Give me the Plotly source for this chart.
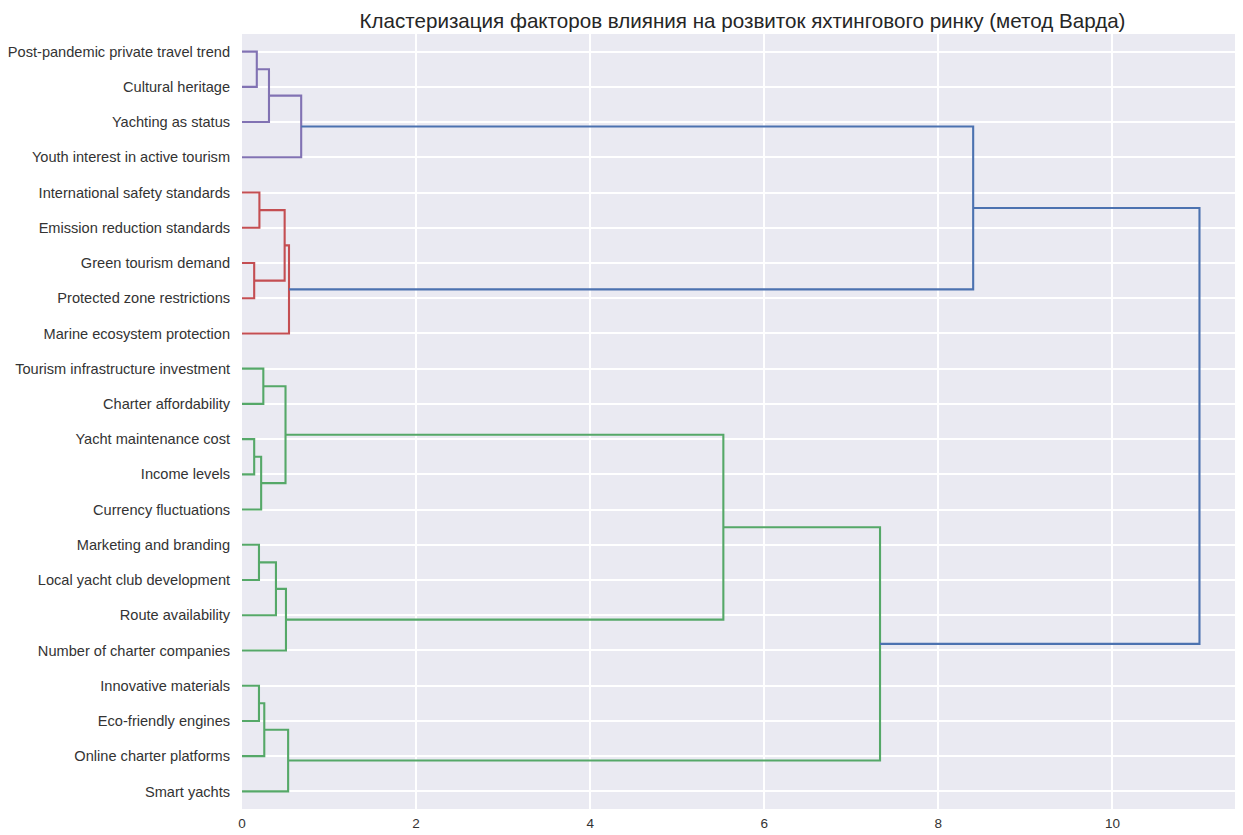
import plotly.graph_objects as go

# Leaf labels, top to bottom
labels = [
    "Post-pandemic private travel trend",
    "Cultural heritage",
    "Yachting as status",
    "Youth interest in active tourism",
    "International safety standards",
    "Emission reduction standards",
    "Green tourism demand",
    "Protected zone restrictions",
    "Marine ecosystem protection",
    "Tourism infrastructure investment",
    "Charter affordability",
    "Yacht maintenance cost",
    "Income levels",
    "Currency fluctuations",
    "Marketing and branding",
    "Local yacht club development",
    "Route availability",
    "Number of charter companies",
    "Innovative materials",
    "Eco-friendly engines",
    "Online charter platforms",
    "Smart yachts",
]

# Linkage: (left node, right node); new node ids start at len(labels)
merge_left = [0, 22, 23, 4, 6, 25, 27, 24, 9, 11, 31, 30, 14, 34, 35, 18, 37, 38, 33, 40, 29]
merge_right = [1, 2, 3, 5, 7, 26, 8, 28, 10, 12, 13, 32, 15, 16, 17, 19, 20, 21, 36, 39, 41]
merge_height = [0.17, 0.31, 0.68, 0.20, 0.14, 0.49, 0.54, 8.40, 0.245, 0.14, 0.22, 0.50,
                0.195, 0.39, 0.505, 0.195, 0.256, 0.53, 5.53, 7.33, 11.0]
merge_group = ["purple", "purple", "purple", "red", "red", "red", "red", "blue",
               "green", "green", "green", "green", "green", "green", "green",
               "green", "green", "green", "green", "green", "blue"]

colors = {"purple": "#8172B3", "red": "#C44E52", "green": "#55A868", "blue": "#4C72B0"}

n = len(labels)
pos = {i: float(i) for i in range(n)}
hgt = {i: 0.0 for i in range(n)}
segs = {k: ([], []) for k in colors}
for k, (a, b, h, g) in enumerate(zip(merge_left, merge_right, merge_height, merge_group)):
    node = n + k
    xs, ys = segs[g]
    xs += [hgt[a], h, h, hgt[b], None]
    ys += [pos[a], pos[a], pos[b], pos[b], None]
    pos[node] = (pos[a] + pos[b]) / 2
    hgt[node] = h

fig = go.Figure()
for g in ["purple", "red", "green", "blue"]:
    xs, ys = segs[g]
    fig.add_trace(go.Scatter(x=xs, y=ys, mode="lines",
                             line=dict(color=colors[g], width=2.1),
                             hoverinfo="skip", showlegend=False))

fig.update_layout(
    width=1235, height=827,
    margin=dict(l=234, r=0, t=26, b=26),
    plot_bgcolor="#EAEAF2", paper_bgcolor="white",
    font=dict(family="Liberation Sans, Arial, sans-serif", size=14, color="#333333"),
    title=dict(text="Кластеризация факторов влияния на розвиток яхтингового ринку (метод Варда)",
               xref="paper", x=0.5, xanchor="center", yref="container", y=0.9843, yanchor="middle",
               font=dict(size=20.6, color="#262626")),
    showlegend=False,
)
fig.update_xaxes(range=[0, 11.5], tickvals=[0, 2, 4, 6, 8, 10], ticktext=["0", "2", "4", "6", "8", "10"],
                 showgrid=True, gridcolor="white", gridwidth=1.5, zeroline=False,
                 showline=False, ticks="outside", ticklen=2, tickcolor="rgba(0,0,0,0)",
                 automargin=False, tickfont=dict(size=13.5, color="#333333"))
fig.update_yaxes(range=[n - 0.5, -0.5], tickvals=list(range(n)), ticktext=labels,
                 showgrid=True, gridcolor="white", gridwidth=1.5, zeroline=False,
                 showline=False, ticks="outside", ticklen=8, tickcolor="rgba(0,0,0,0)",
                 automargin=False, tickfont=dict(size=14.6, color="#333333"))

fig.write_html("out.html")
